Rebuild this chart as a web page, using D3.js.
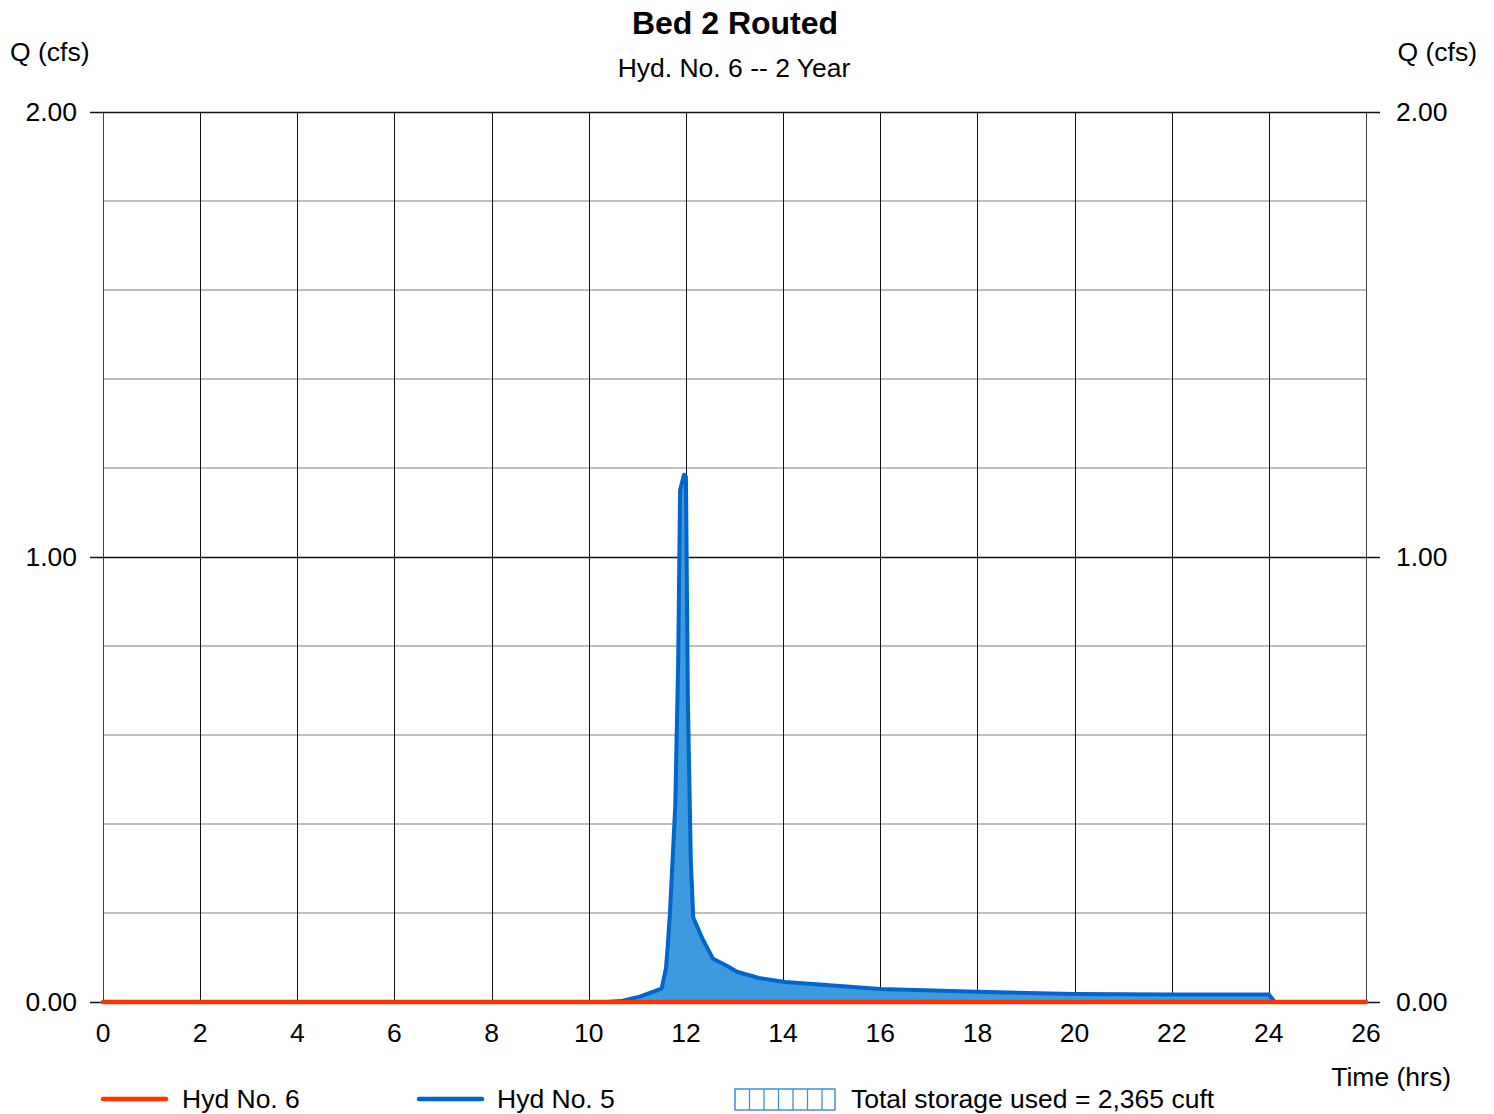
<!DOCTYPE html>
<meta charset="utf-8">
<style>
  body { margin: 0; background: #fff; }
  text { font-family: "Liberation Sans", Arial, sans-serif; fill: #000; }
</style>
<body>
<svg width="1494" height="1114"></svg>
</body>
<script src="https://d3js.org/d3.v7.min.js"></script>
<script>

// hydrograph data, hours vs cfs
var inflowTime = [0, 10.4, 10.7, 11.05, 11.5, 11.59, 11.63, 11.67, 11.78, 11.84, 11.88, 11.96, 12.0, 12.04, 12.1, 12.15, 12.35, 12.56, 12.85, 13.05, 13.5, 14.04, 15.17, 16, 18, 20, 22, 24.0, 24.12, 26];
var inflowQ    = [0, 0, 0.003, 0.012, 0.03, 0.076, 0.133, 0.198, 0.44, 0.76, 1.15, 1.185, 1.18, 0.68, 0.32, 0.19, 0.14, 0.097, 0.081, 0.068, 0.054, 0.045, 0.036, 0.029, 0.023, 0.018, 0.017, 0.017, 0, 0];
var outflowTime = [0, 26];
var outflowQ    = [0, 0];

var xTicks = d3.range(0, 27, 2);
var yMajor = [0, 1, 2];
var yMinor = [0.2, 0.4, 0.6, 0.8, 1.2, 1.4, 1.6, 1.8];
var yLabels = ["0.00", "1.00", "2.00"];

var svg = d3.select("svg"),
    mLeft = 103, mRight = 1366, mTop = 112, mBottom = 1002;

var x = d3.scaleLinear().domain([0, 26]).range([mLeft, mRight]);
var y = d3.scaleLinear().domain([0, 2]).range([mBottom, mTop]);

var fs = 26.5;

// minor horizontal grid
svg.append("g").selectAll("line").data(yMinor).join("line")
    .attr("x1", mLeft).attr("x2", mRight)
    .attr("y1", d => Math.round(y(d))).attr("y2", d => Math.round(y(d)))
    .attr("stroke", "#bdbdbd").attr("stroke-width", 2);

// vertical grid
svg.append("g").selectAll("line").data(xTicks).join("line")
    .attr("x1", d => Math.round(x(d)) + 0.5).attr("x2", d => Math.round(x(d)) + 0.5)
    .attr("y1", mTop).attr("y2", mBottom)
    .attr("stroke", d => (d === 0 || d === 26) ? "#444" : "#111")
    .attr("stroke-width", 1);

// major horizontal lines with ticks on both sides
svg.append("g").selectAll("line").data(yMajor).join("line")
    .attr("x1", mLeft - 13).attr("x2", mRight + 14)
    .attr("y1", d => Math.round(y(d)) + 0.5).attr("y2", d => Math.round(y(d)) + 0.5)
    .attr("stroke", "#111").attr("stroke-width", 1.3);

// y labels
svg.append("g").selectAll("text").data(yMajor).join("text")
    .attr("x", 77).attr("y", d => y(d) + 9)
    .attr("text-anchor", "end").attr("font-size", fs)
    .text((d, i) => yLabels[i]);
svg.append("g").selectAll("text").data(yMajor).join("text")
    .attr("x", 1396).attr("y", d => y(d) + 9)
    .attr("text-anchor", "start").attr("font-size", fs)
    .text((d, i) => yLabels[i]);

// x labels
svg.append("g").selectAll("text").data(xTicks).join("text")
    .attr("x", d => x(d)).attr("y", 1042)
    .attr("text-anchor", "middle").attr("font-size", fs)
    .text(d => d);

// inflow (routed storage) area + line
var inflow = inflowTime.map((t, i) => ({t: t, q: inflowQ[i]}));
svg.append("path").datum(inflow)
    .attr("d", d3.area().x(d => x(d.t)).y0(y(0)).y1(d => y(d.q)))
    .attr("fill", "#3d9ade");
svg.append("path").datum(inflow)
    .attr("d", d3.line().x(d => x(d.t)).y(d => y(d.q)))
    .attr("fill", "none").attr("stroke", "#0066cc").attr("stroke-width", 4)
    .attr("stroke-linejoin", "round");

// outflow
var outflow = outflowTime.map((t, i) => ({t: t, q: outflowQ[i]}));
svg.append("path").datum(outflow)
    .attr("d", d3.line().x(d => x(d.t)).y(d => y(d.q)))
    .attr("fill", "none").attr("stroke", "#ff3300").attr("stroke-width", 4.5)
    .attr("stroke-linecap", "round");

// titles
svg.append("text").attr("x", 735).attr("y", 34).attr("text-anchor", "middle")
    .attr("font-size", 32).attr("font-weight", "bold").text("Bed 2 Routed");
svg.append("text").attr("x", 734).attr("y", 77).attr("text-anchor", "middle")
    .attr("font-size", fs).text("Hyd. No. 6 -- 2 Year");
svg.append("text").attr("x", 10).attr("y", 61).attr("font-size", fs).text("Q (cfs)");
svg.append("text").attr("x", 1477).attr("y", 61).attr("text-anchor", "end")
    .attr("font-size", fs).text("Q (cfs)");
svg.append("text").attr("x", 1451).attr("y", 1086).attr("text-anchor", "end")
    .attr("font-size", fs).text("Time (hrs)");

// legend
var lg = svg.append("g");
lg.append("line").attr("x1", 103).attr("x2", 166).attr("y1", 1099).attr("y2", 1099)
    .attr("stroke", "#ff3300").attr("stroke-width", 4.5).attr("stroke-linecap", "round");
lg.append("text").attr("x", 182).attr("y", 1108).attr("font-size", fs).text("Hyd No. 6");
lg.append("line").attr("x1", 419).attr("x2", 482).attr("y1", 1099).attr("y2", 1099)
    .attr("stroke", "#0066cc").attr("stroke-width", 4.5).attr("stroke-linecap", "round");
lg.append("text").attr("x", 497).attr("y", 1108).attr("font-size", fs).text("Hyd No. 5");
lg.append("rect").attr("x", 735).attr("y", 1089).attr("width", 100).attr("height", 21)
    .attr("fill", "#fff").attr("stroke", "#3d8fdc").attr("stroke-width", 1.5);
lg.selectAll(".hatch").data(d3.range(1, 7)).join("line")
    .attr("x1", d => 735 + d * 14.5).attr("x2", d => 735 + d * 14.5)
    .attr("y1", 1089).attr("y2", 1110)
    .attr("stroke", "#3d8fdc").attr("stroke-width", 1.3);
lg.append("text").attr("x", 851).attr("y", 1108).attr("font-size", fs)
    .text("Total storage used = 2,365 cuft");

</script>
